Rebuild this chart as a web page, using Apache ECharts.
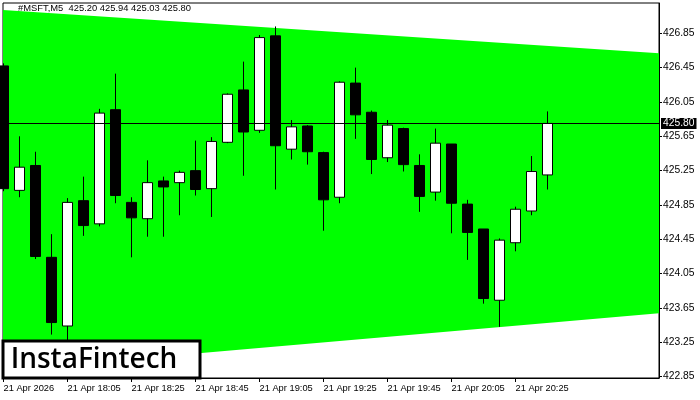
<!DOCTYPE html>
<html>
<head>
<meta charset="utf-8">
<script src="https://cdn.jsdelivr.net/npm/echarts@6/dist/echarts.min.js"></script>
<style>html,body{margin:0;padding:0;background:#fff}#c{width:700px;height:400px}</style>
</head>
<body>
<div id="c"></div>
<script>
// 5-minute bars, 21 Apr 2026, 17:45 .. 20:35
const times = ["17:45","17:50","17:55","18:00","18:05","18:10","18:15","18:20","18:25","18:30","18:35","18:40","18:45","18:50","18:55","19:00","19:05","19:10","19:15","19:20","19:25","19:30","19:35","19:40","19:45","19:50","19:55","20:00","20:05","20:10","20:15","20:20","20:25","20:30","20:35"];
const opens  = [426.47,425.02,425.31,424.24,423.44,424.90,424.63,425.96,424.88,424.69,425.13,425.11,425.25,425.04,425.58,426.19,425.72,426.82,425.50,425.77,425.46,424.94,426.27,425.93,425.40,425.74,425.31,425.00,425.56,424.86,424.57,423.74,424.41,424.78,425.20];
const highs  = [426.50,425.65,425.47,424.51,424.93,425.18,425.97,426.38,424.94,425.37,425.18,425.25,425.60,425.64,426.15,426.52,426.83,426.93,425.84,425.78,425.47,426.29,426.45,425.95,425.84,425.75,425.44,425.74,425.56,424.91,424.57,424.46,424.83,425.42,425.94];
const lows   = [425.01,424.94,424.22,423.34,423.25,424.49,424.60,424.87,424.24,424.48,424.48,424.73,424.96,424.71,425.57,425.19,425.69,425.03,425.38,425.32,424.55,424.87,425.62,425.21,425.35,425.24,424.77,424.90,424.52,424.21,423.70,423.43,424.31,424.73,425.03];
const closes = [425.04,425.29,424.25,423.48,424.88,424.61,425.92,424.96,424.70,425.11,425.06,425.23,425.03,425.59,426.14,425.70,426.80,425.54,425.76,425.47,424.91,426.28,425.90,425.38,425.78,425.32,424.95,425.57,424.87,424.53,423.76,424.44,424.80,425.24,425.80];

const xTickIndex  = [0,4,8,12,16,20,24,28,32];
const xTickLabels = ["21 Apr 2026","21 Apr 18:05","21 Apr 18:25","21 Apr 18:45","21 Apr 19:05","21 Apr 19:25","21 Apr 19:45","21 Apr 20:05","21 Apr 20:25"];
const yTicks = [422.85,423.25,423.65,424.05,424.45,424.85,425.25,425.65,426.05,426.45,426.85];

// triangle pattern boundaries (bar index, price)
const bandX      = [-0.031, 40.97];
const bandTop    = [427.121, 426.617];
const bandBottom = [422.925, 423.589];

const lastPrice = 425.80;
const header = "#MSFT,M5  425.20 425.94 425.03 425.80";

const X_MIN = -0.031, X_MAX = 40.97, Y_MIN = 422.834, Y_MAX = 427.203;
const FONT = "Liberation Sans";

const candleData = opens.map((o, i) => [i, o, closes[i], lows[i], highs[i]]);

const chart = echarts.init(document.getElementById('c'), null, {renderer: 'canvas'});
chart.setOption({
  animation: false,
  backgroundColor: '#fff',
  grid: {left: 3, right: 41, top: 3, bottom: 22, show: true, borderColor: '#000', borderWidth: 1, backgroundColor: 'transparent'},
  xAxis: {
    type: 'value', min: X_MIN, max: X_MAX,
    splitLine: {show: false},
    axisLine: {show: true, onZero: false, lineStyle: {color: '#000', width: 1}},
    axisTick: {show: true, length: 4, lineStyle: {color: '#000'}, customValues: xTickIndex},
    axisLabel: {
      customValues: xTickIndex, align: 'left', margin: 6,
      color: '#000', fontFamily: FONT, fontSize: 9.3,
      formatter: v => { const k = xTickIndex.indexOf(Math.round(v)); return k >= 0 ? xTickLabels[k] : ''; }
    }
  },
  yAxis: {
    type: 'value', position: 'right', min: Y_MIN, max: Y_MAX, scale: true,
    splitLine: {show: false},
    axisLine: {show: true, onZero: false, lineStyle: {color: '#000', width: 1}},
    axisTick: {show: true, length: 3, lineStyle: {color: '#000'}, customValues: yTicks},
    axisLabel: {
      customValues: yTicks, margin: 4, color: '#000', fontFamily: FONT, fontSize: 10.3,
      formatter: v => v.toFixed(2)
    }
  },
  series: [
    {
      type: 'custom', z: 1, silent: true, clip: true,
      data: [[bandX[0], bandTop[0]]],
      encode: {x: 0, y: 1},
      renderItem: (params, api) => {
        const pts = [
          api.coord([bandX[0], bandTop[0]]),
          api.coord([bandX[1], bandTop[1]]),
          api.coord([bandX[1], bandBottom[1]]),
          api.coord([bandX[0], bandBottom[0]])
        ];
        return {type: 'polygon', shape: {points: pts}, style: {fill: '#00ff00', stroke: null}};
      }
    },
    {
      type: 'candlestick', z: 3, clip: true,
      data: candleData,
      encode: {x: 0, y: [1, 2, 3, 4]},
      barWidth: 10,
      itemStyle: {color: '#ffffff', color0: '#000000', borderColor: '#000000', borderColor0: '#000000', borderWidth: 1},
      markLine: {
        silent: true, symbol: 'none', animation: false,
        lineStyle: {color: '#000', type: 'solid', width: 1},
        label: {
          show: true, position: 'end', distance: 2, formatter: lastPrice.toFixed(2),
          color: '#fff', backgroundColor: '#000', padding: [1, 2, 0, 2],
          fontFamily: FONT, fontSize: 10.3
        },
        data: [{yAxis: lastPrice}]
      }
    }
  ],
  graphic: [
    {type: 'text', left: 18, top: 4, z: 10, style: {text: header, fill: '#000', font: '9.4px "Liberation Sans"'}},
    {type: 'rect', z: 10, shape: {x: 3, y: 341, width: 197, height: 37}, style: {fill: '#fff', stroke: '#000', lineWidth: 3}},
    {type: 'text', z: 11, x: 94, y: 360, style: {text: 'InstaFintech', fill: '#000', font: '600 28px "Open Sans"', textAlign: 'center', textVerticalAlign: 'middle'}}
  ]
});
</script>
</body>
</html>
